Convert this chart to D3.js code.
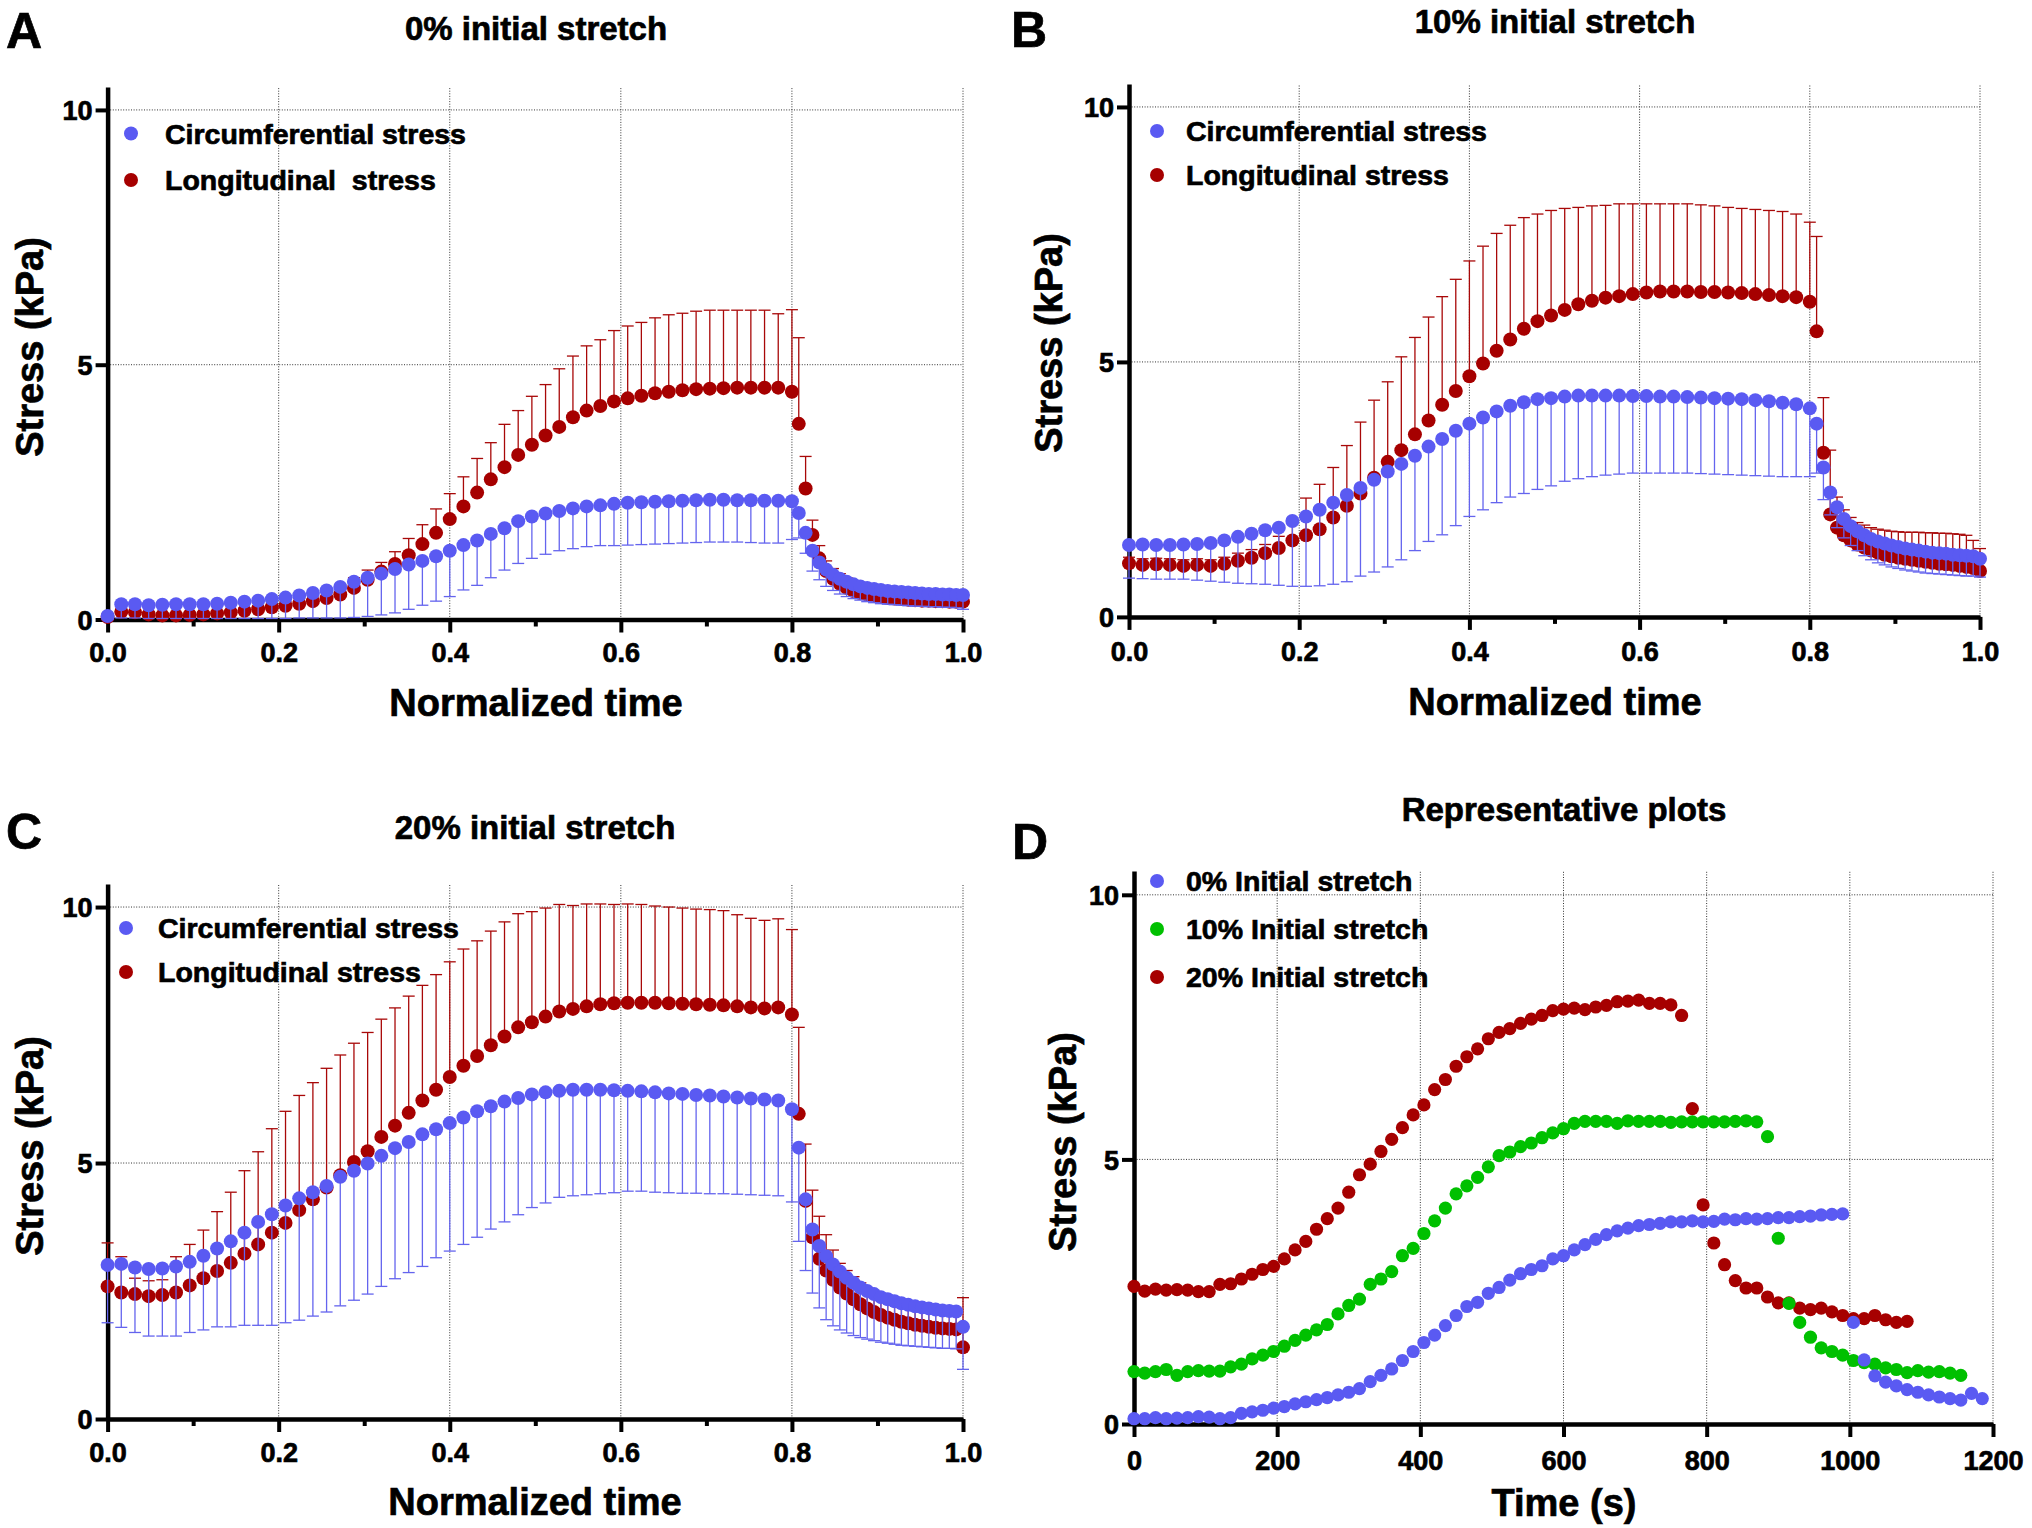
<!DOCTYPE html>
<html><head><meta charset="utf-8">
<script src="https://cdn.jsdelivr.net/npm/d3@7"></script>
<style>
html,body{margin:0;padding:0;background:#fff;}
svg{display:block;}
text{font-family:"Liberation Sans",Arial,Helvetica,sans-serif;font-weight:bold;fill:#000;stroke:#000;stroke-width:0.7px;}
</style></head><body>
<svg id="chart" width="2032" height="1528"></svg>
<script>
// ---------- DATA ----------
const tNorm = [0,0.016,0.032,0.048,0.064,0.08,0.096,0.112,0.128,0.144,0.16,0.176,0.192,0.208,0.224,0.24,0.256,0.272,0.288,0.304,0.32,0.336,0.352,0.368,0.384,0.4,0.416,0.432,0.448,0.464,0.48,0.496,0.512,0.528,0.544,0.56,0.576,0.592,0.608,0.624,0.64,0.656,0.672,0.688,0.704,0.72,0.736,0.752,0.768,0.784,0.8,0.808,0.816,0.824,0.832,0.84,0.848,0.856,0.864,0.872,0.88,0.888,0.896,0.904,0.912,0.92,0.928,0.936,0.944,0.952,0.96,0.968,0.976,0.984,0.992,1.0];

// Panel A: 0% initial stretch
const aCircMean = [0.07,0.3,0.3,0.28,0.29,0.3,0.3,0.3,0.31,0.33,0.35,0.37,0.4,0.43,0.47,0.52,0.57,0.64,0.74,0.82,0.9,0.99,1.08,1.15,1.24,1.35,1.46,1.55,1.68,1.79,1.93,2.02,2.08,2.13,2.18,2.22,2.24,2.27,2.29,2.3,2.31,2.32,2.33,2.34,2.35,2.35,2.34,2.34,2.33,2.33,2.32,2.09,1.7,1.35,1.12,0.98,0.88,0.8,0.74,0.69,0.65,0.62,0.6,0.58,0.56,0.55,0.54,0.53,0.52,0.51,0.5,0.5,0.49,0.49,0.48,0.48];
const aCircLower = [0,0.03,0.03,0.02,0.02,0.02,0.02,0.02,0.02,0.02,0.02,0.02,0.02,0.02,0.03,0.03,0.03,0.03,0.04,0.06,0.09,0.13,0.2,0.28,0.36,0.45,0.58,0.67,0.82,0.97,1.1,1.2,1.28,1.35,1.39,1.43,1.45,1.45,1.46,1.47,1.48,1.49,1.5,1.51,1.52,1.52,1.52,1.51,1.5,1.5,1.57,1.6,1.3,0.95,0.78,0.65,0.57,0.5,0.45,0.41,0.38,0.35,0.33,0.31,0.3,0.29,0.28,0.27,0.26,0.26,0.25,0.25,0.24,0.24,0.23,0.2];
const aLongMean = [0.05,0.15,0.14,0.1,0.08,0.08,0.09,0.1,0.12,0.14,0.17,0.2,0.24,0.27,0.31,0.36,0.42,0.49,0.62,0.78,0.94,1.09,1.26,1.48,1.7,1.97,2.22,2.49,2.75,2.99,3.23,3.43,3.61,3.78,3.97,4.1,4.19,4.28,4.34,4.39,4.44,4.47,4.5,4.52,4.53,4.54,4.55,4.55,4.55,4.55,4.47,3.84,2.57,1.66,1.2,0.95,0.8,0.7,0.62,0.56,0.52,0.49,0.46,0.44,0.42,0.41,0.4,0.39,0.38,0.37,0.37,0.36,0.36,0.35,0.35,0.35];
const aLongUpper = [0.1,0.2,0.19,0.15,0.13,0.13,0.14,0.15,0.17,0.19,0.23,0.27,0.31,0.35,0.41,0.48,0.56,0.68,0.82,0.97,1.12,1.33,1.59,1.86,2.17,2.47,2.8,3.16,3.47,3.83,4.1,4.38,4.61,4.92,5.17,5.37,5.49,5.67,5.76,5.83,5.92,5.98,6.01,6.05,6.07,6.07,6.07,6.07,6.07,6.0,6.08,5.53,3.2,1.95,1.45,1.15,1.0,0.9,0.82,0.76,0.7,0.66,0.63,0.6,0.58,0.56,0.55,0.54,0.53,0.52,0.51,0.5,0.5,0.49,0.49,0.48];

// Panel B: 10% initial stretch
const bCircMean = [1.41,1.42,1.41,1.41,1.42,1.43,1.45,1.5,1.57,1.63,1.7,1.75,1.88,1.97,2.1,2.24,2.39,2.53,2.69,2.85,3.0,3.16,3.34,3.49,3.65,3.79,3.91,4.03,4.14,4.21,4.27,4.29,4.32,4.34,4.34,4.34,4.34,4.33,4.33,4.32,4.32,4.31,4.3,4.29,4.28,4.27,4.25,4.23,4.2,4.17,4.09,3.79,2.93,2.44,2.15,1.92,1.78,1.68,1.6,1.53,1.48,1.44,1.4,1.37,1.34,1.32,1.3,1.28,1.26,1.25,1.24,1.22,1.21,1.2,1.19,1.14];
const bCircLower = [0.76,0.75,0.74,0.74,0.74,0.72,0.7,0.68,0.66,0.65,0.64,0.62,0.6,0.6,0.61,0.64,0.69,0.8,0.88,0.98,1.12,1.3,1.48,1.61,1.79,1.97,2.1,2.24,2.35,2.42,2.5,2.57,2.66,2.71,2.75,2.78,2.8,2.82,2.82,2.82,2.82,2.82,2.81,2.8,2.79,2.78,2.77,2.76,2.75,2.75,2.75,2.82,2.3,2.0,1.75,1.55,1.4,1.3,1.2,1.12,1.06,1.02,0.98,0.95,0.92,0.9,0.88,0.86,0.85,0.84,0.83,0.82,0.81,0.8,0.8,0.78];
const bLongMean = [1.05,1.02,1.03,1.02,1.0,1.02,1.0,1.04,1.1,1.16,1.25,1.35,1.5,1.6,1.72,1.95,2.18,2.42,2.73,3.04,3.27,3.58,3.85,4.16,4.43,4.72,4.97,5.22,5.44,5.65,5.8,5.91,6.02,6.13,6.2,6.26,6.29,6.33,6.36,6.38,6.38,6.38,6.37,6.37,6.36,6.35,6.33,6.31,6.29,6.27,6.18,5.6,3.22,2.01,1.75,1.6,1.5,1.42,1.36,1.3,1.26,1.22,1.19,1.16,1.14,1.12,1.1,1.08,1.06,1.04,1.03,1.02,1.0,0.98,0.96,0.9];
const bLongUpper = [1.17,1.14,1.15,1.14,1.12,1.14,1.12,1.17,1.25,1.32,1.42,1.58,1.9,2.33,2.6,2.93,3.36,3.82,4.25,4.61,5.1,5.48,5.88,6.28,6.62,6.98,7.27,7.52,7.68,7.83,7.9,7.97,8.01,8.03,8.06,8.07,8.1,8.1,8.1,8.1,8.1,8.1,8.08,8.06,8.03,8.01,7.99,7.97,7.95,7.9,7.74,7.46,4.3,3.27,2.35,2.1,1.95,1.85,1.8,1.75,1.72,1.7,1.68,1.67,1.66,1.66,1.66,1.65,1.65,1.64,1.64,1.63,1.62,1.6,1.5,1.34];

// Panel C: 20% initial stretch
const cCircMean = [3.01,3.03,2.96,2.93,2.94,2.98,3.07,3.19,3.33,3.47,3.64,3.85,4.0,4.17,4.31,4.43,4.55,4.73,4.85,4.99,5.14,5.29,5.41,5.56,5.66,5.78,5.89,6.01,6.11,6.2,6.27,6.34,6.38,6.41,6.43,6.43,6.43,6.42,6.41,6.4,6.38,6.36,6.35,6.33,6.32,6.3,6.28,6.26,6.24,6.22,6.05,5.3,4.29,3.7,3.38,3.18,3.02,2.88,2.76,2.66,2.57,2.5,2.44,2.38,2.34,2.3,2.26,2.23,2.2,2.18,2.16,2.14,2.12,2.11,2.1,1.8];
const cCircLower = [1.88,1.79,1.69,1.62,1.62,1.62,1.69,1.74,1.8,1.8,1.83,1.83,1.83,1.88,1.93,2.01,2.09,2.21,2.32,2.44,2.59,2.74,2.86,2.98,3.15,3.28,3.41,3.55,3.71,3.85,3.99,4.13,4.22,4.33,4.36,4.38,4.4,4.42,4.45,4.45,4.43,4.42,4.41,4.41,4.4,4.4,4.39,4.38,4.37,4.36,4.24,3.47,2.9,2.46,2.17,1.94,1.82,1.74,1.68,1.63,1.59,1.56,1.53,1.5,1.48,1.46,1.44,1.43,1.42,1.41,1.4,1.39,1.38,1.38,1.37,0.97];
const cLongMean = [2.59,2.47,2.44,2.4,2.42,2.47,2.61,2.75,2.89,3.05,3.23,3.41,3.64,3.83,4.08,4.29,4.52,4.76,5.02,5.23,5.51,5.73,5.98,6.22,6.43,6.68,6.9,7.09,7.3,7.47,7.65,7.75,7.86,7.96,8.01,8.06,8.1,8.12,8.13,8.13,8.13,8.12,8.11,8.1,8.09,8.08,8.06,8.04,8.02,8.04,7.9,5.96,4.26,3.55,3.13,2.9,2.72,2.57,2.45,2.34,2.24,2.16,2.09,2.03,1.98,1.94,1.9,1.87,1.84,1.82,1.8,1.78,1.77,1.76,1.75,1.4];
const cLongUpper = [3.44,3.17,2.75,2.7,2.72,3.17,3.41,3.69,4.05,4.43,4.85,5.22,5.67,6.01,6.32,6.57,6.85,7.11,7.34,7.55,7.81,8.03,8.26,8.47,8.68,8.93,9.18,9.34,9.53,9.71,9.87,9.91,9.98,10.05,10.03,10.06,10.06,10.05,10.06,10.05,10.02,10.0,9.98,9.96,9.95,9.93,9.85,9.78,9.74,9.77,9.56,7.65,5.37,4.47,3.96,3.6,3.3,3.04,2.9,2.78,2.66,2.56,2.48,2.42,2.36,2.31,2.27,2.23,2.2,2.17,2.15,2.13,2.11,2.1,2.09,2.37];

// Panel D: representative plots (time in s)
const dTime = [0,15,30,45,60,75,90,105,120,135,150,165,180,195,210,225,240,255,270,285,300,315,330,345,360,375,390,405,420,435,450,465,480,495,510,525,540,555,570,585,600,615,630,645,660,675,690,705,720,735,750,765,780,795,810,825,840,855,870,885,900,915,930,945,960,975,990,1005,1020,1035,1050,1065,1080,1095,1110,1125,1140,1155,1170,1185];
const d0Stretch = [0.1,0.1,0.12,0.1,0.11,0.12,0.14,0.13,0.1,0.12,0.2,0.23,0.26,0.3,0.33,0.38,0.42,0.46,0.5,0.55,0.6,0.67,0.8,0.92,1.04,1.2,1.37,1.54,1.68,1.86,2.05,2.22,2.3,2.47,2.58,2.72,2.84,2.92,2.99,3.12,3.18,3.29,3.39,3.49,3.58,3.65,3.7,3.75,3.77,3.79,3.82,3.82,3.84,3.82,3.83,3.87,3.86,3.88,3.87,3.88,3.9,3.9,3.92,3.93,3.95,3.96,3.97,1.92,1.21,0.91,0.79,0.72,0.65,0.6,0.55,0.51,0.48,0.45,0.58,0.48];
const d10Stretch = [0.99,0.96,0.99,1.03,0.92,0.99,1.01,1.0,1.0,1.08,1.13,1.23,1.3,1.37,1.47,1.58,1.68,1.78,1.88,2.08,2.24,2.36,2.64,2.74,2.88,3.18,3.32,3.6,3.84,4.08,4.35,4.5,4.66,4.86,5.07,5.14,5.24,5.31,5.41,5.5,5.58,5.68,5.72,5.72,5.72,5.68,5.73,5.72,5.72,5.72,5.7,5.71,5.71,5.71,5.71,5.71,5.72,5.73,5.71,5.43,3.51,2.28,1.92,1.64,1.44,1.37,1.3,1.2,1.16,1.13,1.06,1.03,0.97,1.01,0.98,0.99,0.96,0.92];
const d20Stretch = [2.6,2.51,2.55,2.53,2.54,2.53,2.5,2.5,2.64,2.65,2.74,2.83,2.92,2.98,3.12,3.29,3.45,3.68,3.88,4.08,4.38,4.71,4.91,5.15,5.38,5.6,5.84,6.03,6.32,6.51,6.76,6.94,7.09,7.28,7.4,7.47,7.57,7.65,7.72,7.81,7.84,7.86,7.83,7.88,7.91,7.98,7.99,8.01,7.95,7.95,7.92,7.72,5.96,4.14,3.42,3.01,2.71,2.57,2.57,2.4,2.29,2.29,2.19,2.16,2.19,2.12,2.05,1.99,1.99,2.05,1.97,1.92,1.94];

const normTicksMajor = [0, 0.2, 0.4, 0.6, 0.8, 1.0];
const normTicksMinor = [0.1, 0.3, 0.5, 0.7, 0.9];
const timeTicks = [0, 200, 400, 600, 800, 1000, 1200];
const stressTicks = [0, 5, 10];

// ---------- STYLE ----------
const BLUE = "#5a5af2", RED = "#a60000", GREEN = "#00c000";
const BLUE_BAR = "#6464ee", RED_BAR = "#a80808";
const svg = d3.select("#chart");
svg.append("rect").attr("width", 2032).attr("height", 1528).attr("fill", "#fff");

function frame(p) {
  const g = svg.append("g");
  const x = d3.scaleLinear().domain(p.xDomain).range([p.left, p.right]);
  const y = d3.scaleLinear().domain([0, 10.45]).range([p.y0, p.top]);
  // grid
  g.append("g").selectAll("line").data(p.xGrid).join("line")
    .attr("x1", d => x(d)).attr("x2", d => x(d))
    .attr("y1", y(0)).attr("y2", y(10.45))
    .attr("stroke", "#333").attr("stroke-width", 1).attr("stroke-dasharray", "1,1.6");
  g.append("g").selectAll("line").data([5, 10]).join("line")
    .attr("x1", x(p.xDomain[0])).attr("x2", x(p.xDomain[1]))
    .attr("y1", d => y(d)).attr("y2", d => y(d))
    .attr("stroke", "#333").attr("stroke-width", 1).attr("stroke-dasharray", "1,1.6");
  // x axis
  const gx = g.append("g").attr("transform", `translate(0,${p.y0})`)
    .call(d3.axisBottom(x).tickValues(p.xMajor).tickFormat(p.xFormat).tickSize(13).tickSizeOuter(0));
  if (p.xMinor) {
    const gm = g.append("g").attr("transform", `translate(0,${p.y0})`)
      .call(d3.axisBottom(x).tickValues(p.xMinor).tickFormat("").tickSize(7).tickSizeOuter(0));
    gm.select(".domain").remove();
    gm.selectAll(".tick line").attr("stroke", "#000").attr("stroke-width", 4);
  }
  gx.select(".domain").attr("stroke", "#000").attr("stroke-width", 4.5);
  gx.selectAll(".tick line").attr("stroke", "#000").attr("stroke-width", 4);
  gx.selectAll(".tick text").attr("y", p.xLabDy).attr("dy", null)
    .style("font-size", "27px");
  // y axis
  const gy = g.append("g").attr("transform", `translate(${p.left},0)`)
    .call(d3.axisLeft(y).tickValues(stressTicks).tickFormat(d3.format("d")).tickSize(12).tickSizeOuter(0));
  gy.select(".domain").attr("stroke", "#000").attr("stroke-width", 4.5);
  gy.selectAll(".tick line").attr("stroke", "#000").attr("stroke-width", 4);
  gy.selectAll(".tick text").attr("x", -15).attr("dy", "0.36em").style("font-size", "27px");
  // labels
  svg.append("text").attr("x", p.letterX).attr("y", p.letterY).text(p.letter).style("font-size", "50px");
  svg.append("text").attr("x", p.titleX).attr("y", p.titleY).attr("text-anchor", "middle")
    .text(p.title).style("font-size", "33px");
  svg.append("text").attr("x", p.xTitleX).attr("y", p.xTitleY).attr("text-anchor", "middle")
    .text(p.xTitle).style("font-size", "38px");
  svg.append("text").attr("transform", `translate(${p.yTitleX},${p.yTitleY}) rotate(-90)`)
    .attr("text-anchor", "middle").text("Stress (kPa)").style("font-size", "38px");
  // legend
  p.legend.forEach((L, i) => {
    svg.append("circle").attr("cx", p.legDotX).attr("cy", p.legY[i]).attr("r", 7).attr("fill", L.color);
    svg.append("text").attr("x", p.legTextX).attr("y", p.legY[i]).attr("dy", "0.36em")
      .attr("xml:space", "preserve").style("white-space", "pre")
      .text(L.label).style("font-size", "28.5px");
  });
  return {g, x, y};
}

function errBars(g, x, y, xs, mean, end, color) {
  const gg = g.append("g").attr("stroke", color).attr("stroke-width", 1.3);
  gg.selectAll("line.v").data(xs).join("line").attr("class", "v")
    .attr("x1", d => x(d)).attr("x2", d => x(d))
    .attr("y1", (d, i) => y(mean[i])).attr("y2", (d, i) => y(end[i]));
  gg.selectAll("line.c").data(xs).join("line").attr("class", "c")
    .attr("x1", d => x(d) - 6).attr("x2", d => x(d) + 6)
    .attr("y1", (d, i) => y(end[i])).attr("y2", (d, i) => y(end[i]));
}
function dots(g, x, y, xs, vals, color, r) {
  g.append("g").selectAll("circle").data(vals).join("circle")
    .attr("cx", (d, i) => x(xs[i])).attr("cy", d => y(d)).attr("r", r).attr("fill", color);
}

const stressPanels = [
  {letter: "A", letterX: 6, letterY: 48, title: "0% initial stretch", titleX: 536, titleY: 40,
   left: 107.6, right: 963, y0: 619.5, top: 87, xLabDy: 42, xTitleX: 536, xTitleY: 716, yTitleX: 43, yTitleY: 347,
   legDotX: 131, legTextX: 165, legY: [133.5, 180], longLabel: "Longitudinal  stress",
   circ: aCircMean, circLow: aCircLower, long: aLongMean, longUp: aLongUpper},
  {letter: "B", letterX: 1011, letterY: 47, title: "10% initial stretch", titleX: 1555, titleY: 32.5,
   left: 1129, right: 1980, y0: 616.9, top: 84, xLabDy: 44, xTitleX: 1555, xTitleY: 715, yTitleX: 1062, yTitleY: 343,
   legDotX: 1157, legTextX: 1186, legY: [131, 175], longLabel: "Longitudinal stress",
   circ: bCircMean, circLow: bCircLower, long: bLongMean, longUp: bLongUpper},
  {letter: "C", letterX: 6, letterY: 849, title: "20% initial stretch", titleX: 535, titleY: 838.5,
   left: 107.6, right: 963, y0: 1419, top: 884, xLabDy: 43, xTitleX: 535, xTitleY: 1515, yTitleX: 43, yTitleY: 1146,
   legDotX: 126, legTextX: 158, legY: [928, 972], longLabel: "Longitudinal stress",
   circ: cCircMean, circLow: cCircLower, long: cLongMean, longUp: cLongUpper}
];

stressPanels.forEach(p => {
  const cfg = Object.assign({}, p, {
    xDomain: [0, 1], xGrid: [0.2, 0.4, 0.6, 0.8, 1.0], xMajor: normTicksMajor, xMinor: normTicksMinor,
    xFormat: d3.format(".1f"), xTitle: "Normalized time",
    legend: [{label: "Circumferential stress", color: BLUE}, {label: p.longLabel, color: RED}]
  });
  const {g, x, y} = frame(cfg);
  errBars(g, x, y, tNorm, p.long, p.longUp, RED_BAR);
  dots(g, x, y, tNorm, p.long, RED, 7);
  errBars(g, x, y, tNorm, p.circ, p.circLow, BLUE_BAR);
  dots(g, x, y, tNorm, p.circ, BLUE, 7);
});

// Panel D
(function () {
  const cfg = {
    letter: "D", letterX: 1012, letterY: 859, title: "Representative plots", titleX: 1564, titleY: 821,
    left: 1134, right: 1993, y0: 1424, top: 871, xLabDy: 46, xTitleX: 1564, xTitleY: 1516,
    yTitleX: 1076, yTitleY: 1142, legDotX: 1157, legTextX: 1186, legY: [881, 929, 977],
    xDomain: [0, 1200], xGrid: [200, 400, 600, 800, 1000, 1200], xMajor: timeTicks, xMinor: null,
    xFormat: d3.format("d"), xTitle: "Time (s)",
    legend: [{label: "0% Initial stretch", color: BLUE}, {label: "10% Initial stretch", color: GREEN},
             {label: "20% Initial stretch", color: RED}]
  };
  const {g, x, y} = frame(cfg);
  dots(g, x, y, dTime, d20Stretch, RED, 6.6);
  dots(g, x, y, dTime, d10Stretch, GREEN, 6.6);
  dots(g, x, y, dTime, d0Stretch, BLUE, 6.6);
})();
</script>
</body></html>
